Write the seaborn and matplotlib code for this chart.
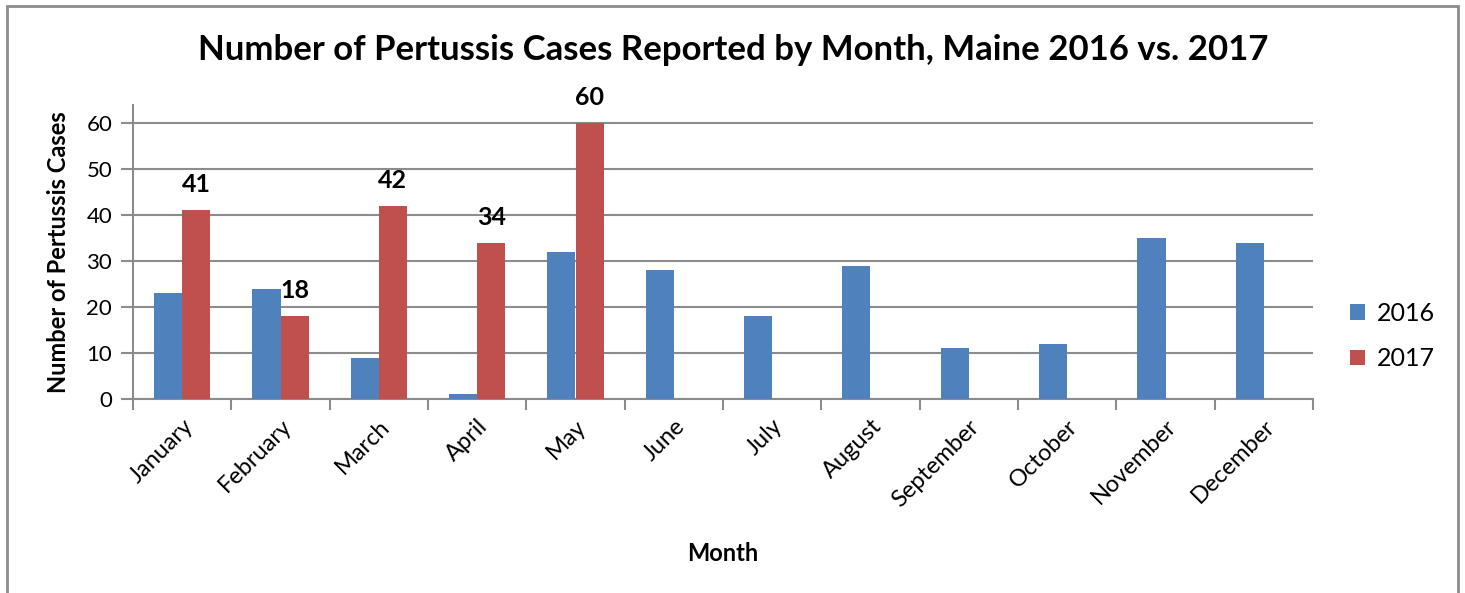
import pandas as pd
import numpy as np
import seaborn as sns
import matplotlib.pyplot as plt
from matplotlib.patches import Rectangle

# --- data ---
months = ['January', 'February', 'March', 'April', 'May', 'June', 'July',
          'August', 'September', 'October', 'November', 'December']
cases_2016 = [23, 24, 9, 1, 32, 28, 18, 29, 11, 12, 35, 34]
cases_2017 = [41, 18, 42, 34, 60, np.nan, np.nan, np.nan, np.nan, np.nan, np.nan, np.nan]
years = ['2016', '2017']
colors = ['#4F81BD', '#C0504D']

df = pd.DataFrame({
    'Month': months * 2,
    'Year': [years[0]] * 12 + [years[1]] * 12,
    'Cases': cases_2016 + cases_2017,
})

sns.set_style('white')
plt.rcParams['font.family'] = ['Lato', 'DejaVu Sans']
plt.rcParams['text.color'] = 'black'
plt.rcParams['axes.labelcolor'] = 'black'
plt.rcParams['xtick.color'] = 'black'
plt.rcParams['ytick.color'] = 'black'

fig = plt.figure(figsize=(14.65, 5.93), dpi=100)
ax = fig.add_axes([133 / 1465, 1 - 399 / 593, 1180 / 1465, 294 / 593])

sns.barplot(data=df, x='Month', y='Cases', hue='Year', order=months,
            hue_order=years, palette=colors, width=0.57, saturation=1,
            edgecolor='none', ax=ax, zorder=3)

# labels on the 2017 bars only
ax.bar_label(ax.containers[1], fmt='%g', padding=10, fontsize=18,
             fontweight='bold')

ax.set_ylim(0, 63.9)
ax.set_xlim(-0.5, 11.5)
ax.set_yticks([0, 10, 20, 30, 40, 50, 60])
ax.yaxis.grid(True, color='#8c8c8c', linewidth=1.5, zorder=0)
ax.tick_params(axis='y', length=9, width=1.5, color='#8c8c8c',
               labelcolor='black', labelsize=16, pad=6, left=True)

ax.set_xticks(range(12))
ax.set_xticklabels(months, rotation=45, ha='right', rotation_mode='anchor')
ax.tick_params(axis='x', length=0, labelsize=17, pad=12)
ax.set_xticks(np.arange(-0.5, 12, 1), minor=True)
ax.tick_params(axis='x', which='minor', length=8, width=1.5,
               color='#8c8c8c', bottom=True)

for side in ['top', 'right']:
    ax.spines[side].set_visible(False)
for side in ['left', 'bottom']:
    ax.spines[side].set_color('#8c8c8c')
    ax.spines[side].set_linewidth(1.5)

ax.set_xlabel('Month', fontsize=17, fontweight='bold', labelpad=23)
ax.set_ylabel('Number of Pertussis Cases', fontsize=17, fontweight='bold',
              labelpad=12)

fig.text(733 / 1465, 1 - 50 / 593,
         'Number of Pertussis Cases Reported by Month, Maine 2016 vs. 2017',
         ha='center', va='center', fontsize=25, fontweight='bold')

ax.legend(loc='center left', bbox_to_anchor=(1.012, 0.214), frameon=False,
          fontsize=18, handlelength=0.6, handleheight=0.6,
          labelspacing=0.9, handletextpad=0.5)

# outer chart frame
fig.patches.append(Rectangle((7 / 1465, -0.1), 1451 / 1465, 1.1 - 6 / 593,
                             transform=fig.transFigure, fill=False,
                             edgecolor='#8c8c8c', linewidth=2))

fig.savefig('out.png', dpi=100)
